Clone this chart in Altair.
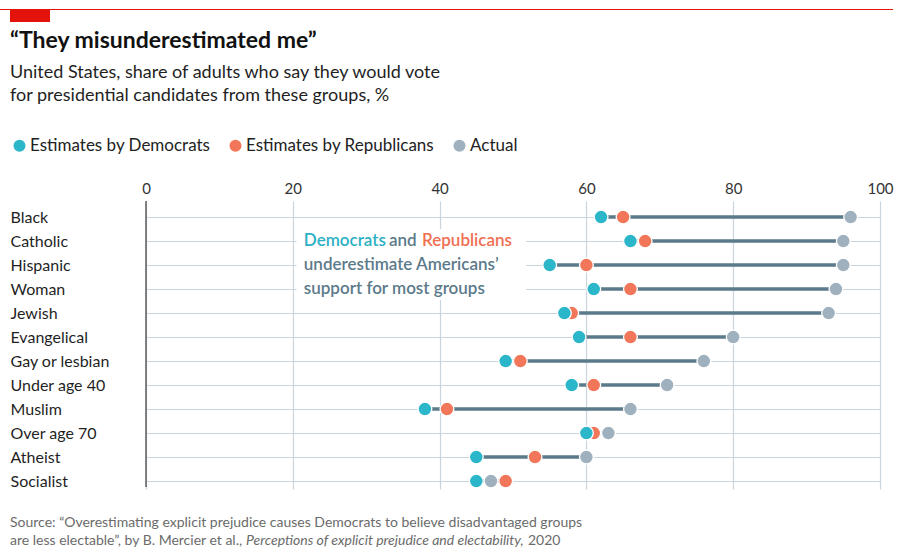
import altair as alt
import pandas as pd

# Survey results: share of adults who would vote for a candidate from each group, %
groups = ["Black", "Catholic", "Hispanic", "Woman", "Jewish", "Evangelical",
          "Gay or lesbian", "Under age 40", "Muslim", "Over age 70", "Atheist", "Socialist"]
dem_est = [62, 66, 55, 61, 57, 59, 49, 58, 38, 60, 45, 45]
rep_est = [65, 68, 60, 66, 58, 66, 51, 61, 41, 61, 53, 49]
actual = [96, 95, 95, 94, 93, 80, 76, 71, 66, 63, 60, 47]

series_names = ["Estimates by Democrats", "Estimates by Republicans", "Actual"]
series_colors = ["#2bb6c9", "#f2775a", "#9fb1be"]
x_ticks = [0, 20, 40, 60, 80, 100]

FONT = "Lato"
RED = "#e3120b"
SLATE = "#5b7a8a"
GRID = "#c9d4dc"

# Span of each row, from the lowest to the highest value
spans = pd.DataFrame({
    "group": groups,
    "lo": [min(a, b, c) for a, b, c in zip(dem_est, rep_est, actual)],
    "hi": [max(a, b, c) for a, b, c in zip(dem_est, rep_est, actual)],
})

# Points in long form; actual first so the estimates sit on top
points = pd.DataFrame(
    [{"group": g, "series": series_names[2], "value": v} for g, v in zip(groups, actual)]
    + [{"group": g, "series": series_names[1], "value": v} for g, v in zip(groups, rep_est)]
    + [{"group": g, "series": series_names[0], "value": v} for g, v in zip(groups, dem_est)]
)

x_scale = alt.Scale(domain=[0, 100], nice=False, zero=False)
y_scale = alt.Scale(type="point", domain=groups, padding=0.5, align=0.67)

x_axis = alt.Axis(orient="top", values=x_ticks, grid=True, gridColor=GRID,
                  gridWidth=1.2, domain=False, ticks=False, labelPadding=5,
                  labelFlush=False, labelFontSize=15, labelColor="#333333",
                  labelFont=FONT, title=None)
y_axis = alt.Axis(grid=True, gridColor=GRID, gridWidth=1.2, domain=False,
                  ticks=False, labelAlign="left", labelPadding=136,
                  labelFontSize=16, labelColor="#1f1f1f", labelFont=FONT,
                  labelBaseline="middle", title=None)

y_enc = alt.Y("group:O", scale=y_scale, sort=groups, axis=y_axis)

bars = alt.Chart(spans).mark_rule(color=SLATE, strokeWidth=3.5).encode(
    x=alt.X("lo:Q", scale=x_scale, axis=x_axis),
    x2="hi:Q",
    y=y_enc,
)

zero_line = alt.Chart(alt.Data(values=[{}])).mark_rule(color="#5c5c5c", strokeWidth=1.5).encode(
    x=alt.datum(0, scale=x_scale), y=alt.value(0), y2=alt.value(286)
)

dots = alt.Chart(points).mark_circle(size=190, opacity=1, stroke="white", strokeWidth=1.3).encode(
    x=alt.X("value:Q", scale=x_scale, axis=x_axis),
    y=y_enc,
    color=alt.Color("series:N", scale=alt.Scale(domain=series_names, range=series_colors),
                    legend=alt.Legend(title=None, orient="none", legendX=-135, legendY=-64,
                                      direction="horizontal", symbolType="circle",
                                      symbolSize=144, symbolStrokeWidth=0, labelFont=FONT,
                                      labelFontSize=17, labelColor="#222222",
                                      labelLimit=0, labelOffset=2, columnPadding=16)),
)

# Annotation box and text
note_box = alt.Chart(alt.Data(values=[{}])).mark_rect(color="white").encode(
    x=alt.datum(20.5, scale=x_scale), x2=alt.datum(51.8),
    y=alt.value(28), y2=alt.value(99)
)

note_parts = pd.DataFrame({
    "text": ["Democrats", "and", "Republicans",
             "underestimate Americans\u2019", "support for most groups"],
    "x": [21.5, 33.1, 37.6, 21.5, 21.5],
    "group": ["Catholic", "Catholic", "Catholic", "Hispanic", "Woman"],
    "c": ["#2bb0c4", SLATE, "#ef6f52", SLATE, SLATE],
})
note = alt.Chart(note_parts).mark_text(align="left", baseline="middle", font=FONT,
                                       fontSize=17, fontWeight=600).encode(
    x=alt.X("x:Q", scale=x_scale),
    y=alt.Y("group:O", scale=y_scale, sort=groups),
    text="text:N",
    color=alt.Color("c:N", scale=None),
)

# Header: red rule and tag, title, subtitle
red_line = alt.Chart(alt.Data(values=[{}])).mark_rule(color=RED, strokeWidth=1).encode(
    x=alt.value(-146), x2=alt.value(747), y=alt.value(-191.5)
)
red_tag = alt.Chart(alt.Data(values=[{}])).mark_rect(color=RED).encode(
    x=alt.value(-136), x2=alt.value(-96), y=alt.value(-192), y2=alt.value(-179)
)

title = alt.Chart(pd.DataFrame({"t": ["\u201cThey misunderestimated me\u201d"]})).mark_text(
    align="left", baseline="alphabetic", font=FONT, fontSize=23, fontWeight="bold",
    color="#111111"
).encode(x=alt.value(-136), y=alt.value(-153), text="t:N")

subtitle = alt.Chart(pd.DataFrame({
    "t": ["United States, share of adults who say they would vote",
          "for presidential candidates from these groups, %"],
    "y": [-123, -100],
})).mark_text(align="left", baseline="alphabetic", font=FONT, fontSize=18,
              color="#1f1f1f").encode(
    x=alt.value(-136), y=alt.Y("y:Q", scale=None), text="t:N"
)

# Footer with source
src_parts = pd.DataFrame({
    "t": ["Source: \u201cOverestimating explicit prejudice causes Democrats to believe disadvantaged groups",
          "are less electable\u201d, by B. Mercier et al.,",
          "Perceptions of explicit prejudice and electability,",
          "2020"],
    "x": [-136, -136, 100, 382],
    "y": [326, 344, 344, 344],
    "s": ["normal", "normal", "italic", "normal"],
})
src_normal = alt.Chart(src_parts).transform_filter(alt.datum.s == "normal").mark_text(
    align="left", baseline="alphabetic", font=FONT, fontSize=14, color="#6b6b6b"
).encode(x=alt.X("x:Q", scale=None), y=alt.Y("y:Q", scale=None), text="t:N")
src_italic = alt.Chart(src_parts).transform_filter(alt.datum.s == "italic").mark_text(
    align="left", baseline="alphabetic", font=FONT, fontSize=14, fontStyle="italic",
    color="#6b6b6b"
).encode(x=alt.X("x:Q", scale=None), y=alt.Y("y:Q", scale=None), text="t:N")

chart = alt.layer(
    note_box, bars, zero_line, dots, note,
    red_line, red_tag, title, subtitle, src_normal, src_italic
).properties(
    width=734, height=288,
    autosize=alt.AutoSizeParams(type="none"),
    padding={"left": 146, "top": 201, "right": 23, "bottom": 66},
    background="white",
).configure_view(stroke=None)

chart.save("out.html", embed_options={"renderer": "svg", "actions": False})
